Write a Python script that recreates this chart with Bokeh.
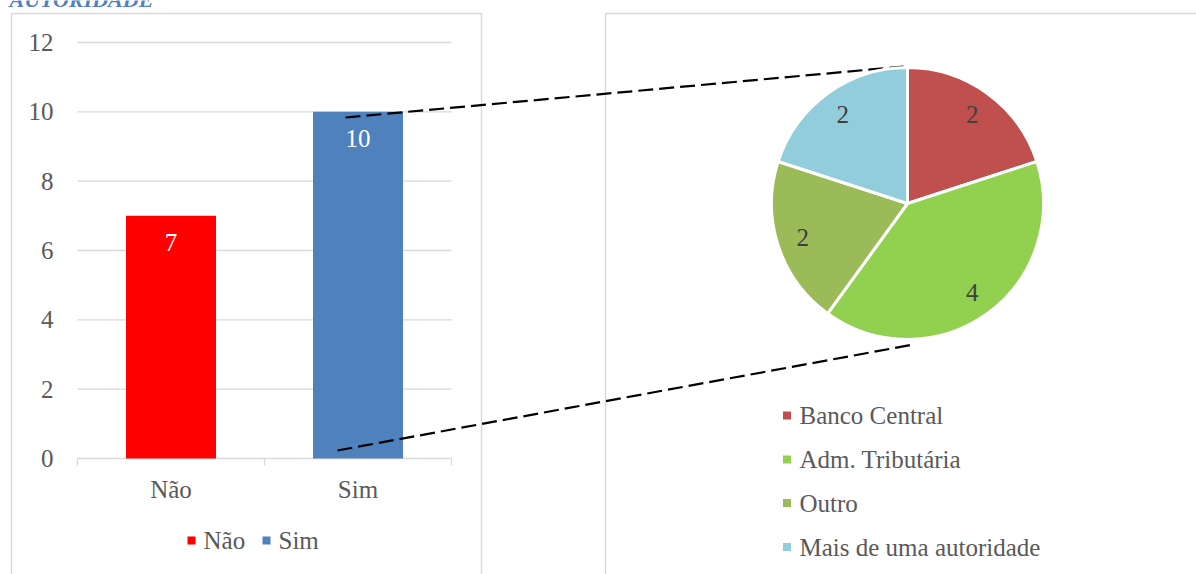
import math
from bokeh.plotting import figure
from bokeh.models import Range1d
from bokeh.core.properties import value
from bokeh.embed import file_html
from bokeh.resources import INLINE

# ---------------- data ----------------
title_text = "AUTORIDADE"

bar_categories = ["Não", "Sim"]
bar_values = [7, 10]
bar_colors = ["#FF0000", "#4F81BD"]
y_ticks = [0, 2, 4, 6, 8, 10, 12]

pie_categories = ["Banco Central", "Adm. Tributária", "Outro", "Mais de uma autoridade"]
pie_values = [2, 4, 2, 2]
pie_colors = ["#C0504D", "#92D050", "#9BBB59", "#92CDDC"]

# ---------------- layout (pixels, measured from top-left) ----------------
W, H = 1196, 574
FONT = value("Liberation Serif")
FS = "25px"
TXT = "#595959"
GRID = "#D9D9D9"

AX_L, AX_R = 77, 451          # x extent of bar plot area
Y0_PX, YMAX_PX = 458, 42       # pixel rows of first / last y tick
n_bar = len(bar_categories)
step = (AX_R - AX_L) / n_bar
PXU = (Y0_PX - YMAX_PX) / (y_ticks[-1] - y_ticks[0])


def T(p):
    return H - p


x_range = Range1d(-0.5 - AX_L / step, -0.5 + (W - AX_L) / step)
y_range = Range1d(-(H - Y0_PX) / PXU, Y0_PX / PXU)

p = figure(width=W, height=H, x_range=x_range, y_range=y_range,
           toolbar_location=None, output_backend="svg",
           x_axis_type=None, y_axis_type=None, min_border=0,
           outline_line_color=None, background_fill_color="white",
           border_fill_color="white")
p.grid.visible = False
p.extra_x_ranges = {"px": Range1d(0, W)}
p.extra_y_ranges = {"py": Range1d(0, H)}

# panel borders
p.multi_line(xs=[[11, 11, 481, 481], [605, 605, W + 5]],
             ys=[[T(H + 5), T(13), T(13), T(H + 5)], [T(H + 5), T(13), T(13)]],
             x_range_name="px", y_range_name="py",
             line_color=GRID, line_width=1.5)

# title (partly above the visible page, as in the source)
p.text(x=[9], y=[T(-1)], text=[title_text], x_range_name="px", y_range_name="py",
       text_font=FONT, text_font_size="22px", text_font_style="bold italic",
       text_color="#4F81BD", text_align="left", text_baseline="alphabetic")

# ---------------- bar chart ----------------
p.segment(x0=AX_L, x1=AX_R, y0=y_ticks, y1=y_ticks, x_range_name="px",
          line_color=GRID, line_width=1.3)
tick_x = [AX_L + k * step for k in range(n_bar + 1)]
p.segment(x0=tick_x, x1=tick_x, y0=T(Y0_PX), y1=T(Y0_PX + 7),
          x_range_name="px", y_range_name="py", line_color=GRID, line_width=1.3)
p.text(x=[53] * len(y_ticks), y=y_ticks, text=[str(t) for t in y_ticks],
       x_range_name="px", text_font=FONT, text_font_size=FS, text_color=TXT,
       text_align="right", text_baseline="middle")

idx = list(range(n_bar))
p.vbar(x=idx, top=bar_values, bottom=0, width=90 / step,
       fill_color=bar_colors, line_color=None)
p.text(x=idx, y=[v - 27 / PXU for v in bar_values], text=[str(v) for v in bar_values],
       text_font=FONT, text_font_size=FS, text_color="white",
       text_align="center", text_baseline="middle")
p.text(x=idx, y=[T(489)] * n_bar, y_range_name="py", text=bar_categories,
       text_font=FONT, text_font_size=FS, text_color=TXT,
       text_align="center", text_baseline="middle")

# bar legend
leg_sq_x = [191, 266]
leg_tx_x = [203, 278]
p.scatter(x=leg_sq_x, y=[T(540)] * n_bar, marker="square", size=8,
          fill_color=bar_colors, line_color=None,
          x_range_name="px", y_range_name="py")
p.text(x=leg_tx_x, y=[T(540)] * n_bar, text=bar_categories,
       x_range_name="px", y_range_name="py",
       text_font=FONT, text_font_size=FS, text_color=TXT,
       text_align="left", text_baseline="middle")

# ---------------- connectors ----------------
p.segment(x0=[345, 337], y0=[T(117), T(450)], x1=[903, 913], y1=[T(66), T(344)],
          x_range_name="px", y_range_name="py",
          line_color="black", line_width=2.2, line_dash="15 6")

# ---------------- pie ----------------
CX, CY, R = 907, 203, 136
total = sum(pie_values)
cum = [0]
for v in pie_values:
    cum.append(cum[-1] + v)
starts = [math.pi / 2 - 2 * math.pi * cum[i + 1] / total for i in range(len(pie_values))]
ends = [math.pi / 2 - 2 * math.pi * cum[i] / total for i in range(len(pie_values))]
p.wedge(x=CX, y=T(CY), radius=R, start_angle=starts, end_angle=ends,
        direction="anticlock", fill_color=pie_colors, line_color="white",
        line_width=3, x_range_name="px", y_range_name="py")
mids = [(a + b) / 2 for a, b in zip(starts, ends)]
LR = 0.81 * R
p.text(x=[CX + LR * math.cos(m) for m in mids], y=[T(CY) + LR * math.sin(m) for m in mids],
       text=[str(v) for v in pie_values], x_range_name="px", y_range_name="py",
       text_font=FONT, text_font_size=FS, text_color="#404040",
       text_align="center", text_baseline="middle")

# pie legend
rows = [415, 459, 502.5, 546.5]
p.scatter(x=[786.5] * len(rows), y=[T(r) for r in rows], marker="square", size=8,
          fill_color=pie_colors, line_color=None,
          x_range_name="px", y_range_name="py")
p.text(x=[799] * len(rows), y=[T(r) for r in rows], text=pie_categories,
       x_range_name="px", y_range_name="py",
       text_font=FONT, text_font_size=FS, text_color=TXT,
       text_align="left", text_baseline="middle")

open("out.html", "w").write(file_html(p, INLINE))
